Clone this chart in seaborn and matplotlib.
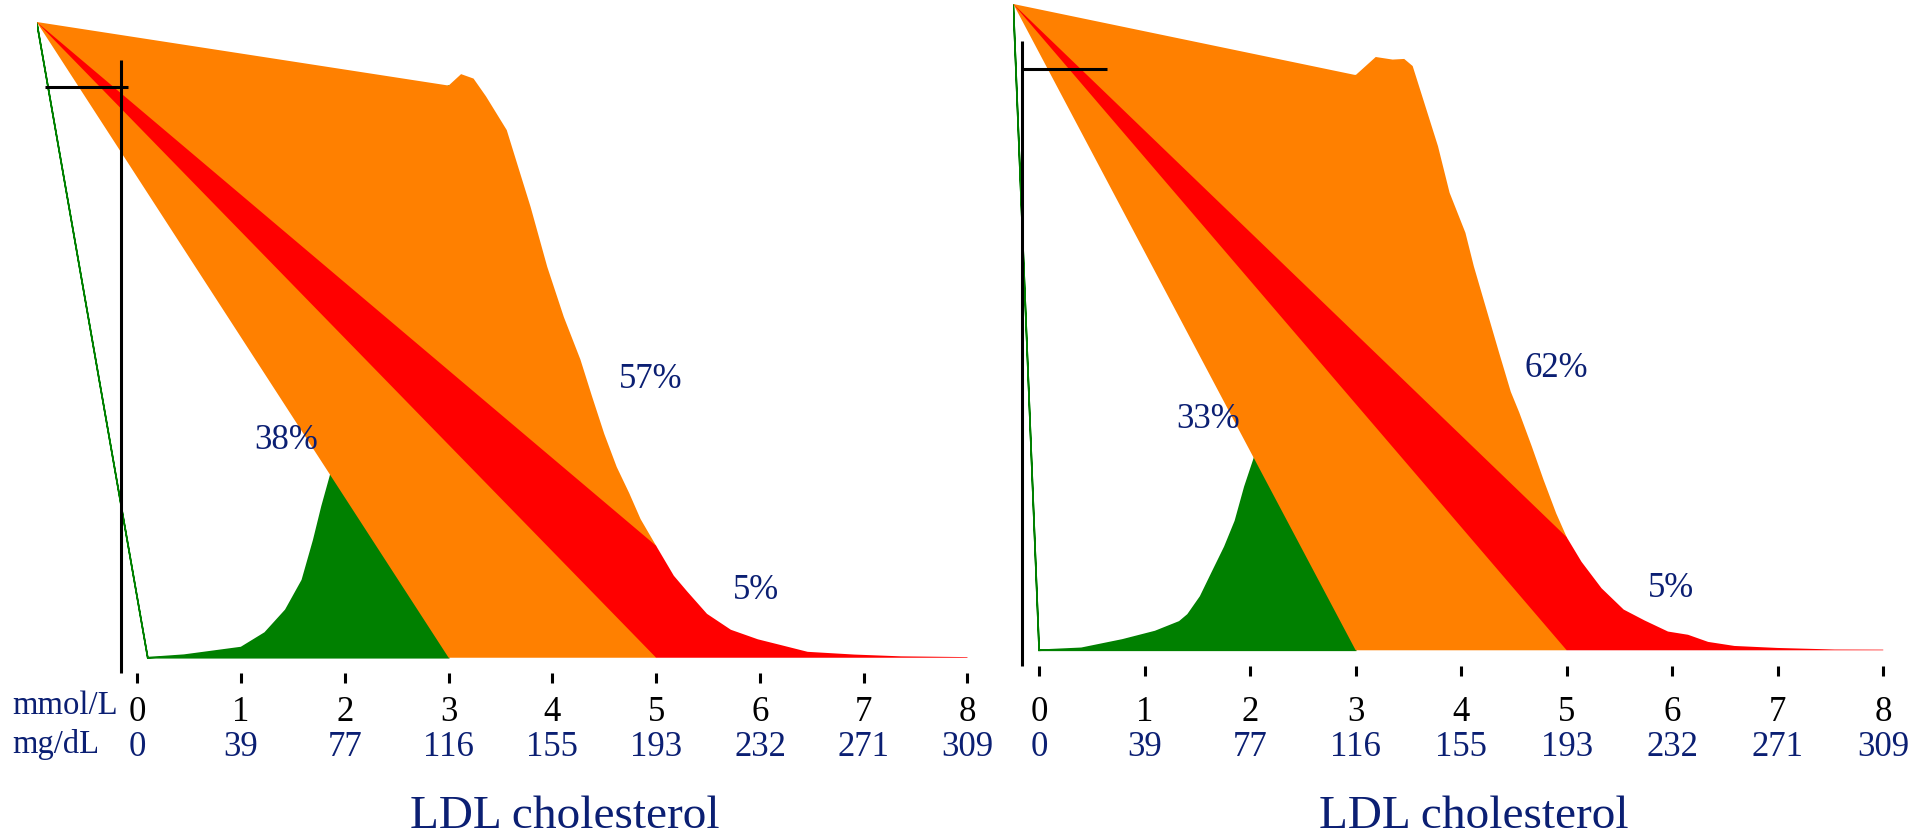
import numpy as np
import matplotlib
matplotlib.use("Agg")
import matplotlib.pyplot as plt
import seaborn as sns

# ---------------- data ----------------
mmol_ticks = [0, 1, 2, 3, 4, 5, 6, 7, 8]
mgdl_labels = ["0", "39", "77", "116", "155", "193", "232", "271", "309"]

# LDL distribution, left panel (x in mmol/L, relative density)
left_x = [0.10, 0.45, 1.00, 1.23, 1.43, 1.59, 1.70, 1.78, 1.86, 2.00, 2.25, 2.50,
          2.75, 3.00, 3.12, 3.24, 3.36, 3.56, 3.67, 3.79, 3.95, 4.11, 4.27, 4.38,
          4.50, 4.62, 4.74, 4.85, 5.00, 5.17, 5.30, 5.49, 5.72, 5.98, 6.20, 6.46,
          6.91, 7.36, 8.00]
left_y = [0.000, 0.004, 0.016, 0.039, 0.075, 0.122, 0.185, 0.238, 0.285, 0.370,
          0.520, 0.670, 0.800, 0.900, 0.918, 0.911, 0.883, 0.830, 0.772, 0.709,
          0.615, 0.536, 0.469, 0.412, 0.352, 0.300, 0.259, 0.218, 0.176, 0.129,
          0.104, 0.069, 0.044, 0.029, 0.020, 0.0093, 0.005, 0.0022, 0.001]

# LDL distribution, right panel
right_x = [0.00, 0.40, 0.79, 1.10, 1.33, 1.41, 1.53, 1.64, 1.76, 1.86, 1.95, 2.04,
           2.25, 2.50, 2.75, 3.00, 3.19, 3.35, 3.46, 3.54, 3.66, 3.78, 3.89, 4.04,
           4.12, 4.24, 4.36, 4.47, 4.55, 4.67, 4.78, 4.90, 5.00, 5.14, 5.33, 5.54,
           5.74, 5.96, 6.15, 6.34, 6.59, 7.00, 7.54, 8.00]
right_y = [0.000, 0.003, 0.016, 0.029, 0.044, 0.055, 0.083, 0.120, 0.160, 0.200,
           0.253, 0.297, 0.450, 0.620, 0.770, 0.890, 0.918, 0.914, 0.915, 0.904,
           0.842, 0.780, 0.708, 0.646, 0.594, 0.527, 0.460, 0.400, 0.368, 0.315,
           0.264, 0.212, 0.175, 0.137, 0.096, 0.063, 0.046, 0.029, 0.024, 0.013,
           0.0067, 0.0036, 0.0012, 0.001]

cut_low = 3.0
cut_high = 5.0
left_pct = ["38%", "57%", "5%"]
right_pct = ["33%", "62%", "5%"]

# ---------------- layout / style ----------------
left_pct_pos = [(1.43, 0.328), (4.95, 0.425), (5.96, 0.092)]
right_pct_pos = [(1.60, 0.344), (4.90, 0.423), (5.99, 0.082)]

GREEN = "#008000"
ORANGE = "#FF8000"
RED = "#FF0000"
NAVY = "#0b1f73"
FS = 25
FS_ROW = 23.5
FS_TITLE = 34

W, H = 1921, 836
sns.set_style("white")
plt.rcParams["font.family"] = ["Liberation Serif", "DejaVu Serif"]

fig = plt.figure(figsize=(W / 100, H / 100), dpi=100)


def px_axes(l, r, t, b):
    return fig.add_axes([l / W, 1 - b / H, (r - l) / W, (b - t) / H])


ax_l = px_axes(36.7, 998.6, 22.0, 673.0)
ax_r = px_axes(1013.3, 1914.9, 4.0, 665.8)


def panel(ax, xlo, xs, ys, pcts, pct_pos, vbar_top, hbar):
    ax.set_xlim(xlo, 8.3)
    ax.set_ylim(-0.024, 1.0)
    px, py = ax.get_xlim()[0], ax.get_ylim()[1]
    xs = np.asarray(xs, float)
    ys = np.asarray(ys, float)

    def seg(a, b):
        m = (xs >= a - 1e-9) & (xs <= b + 1e-9)
        return xs[m], ys[m]

    gx, gy = seg(xs[0], cut_low)
    ax.fill(np.r_[px, gx, cut_low, gx[0]], np.r_[py, gy, 0, 0],
            facecolor=GREEN, edgecolor=GREEN, lw=1.2, zorder=1)
    ox, oy = seg(cut_low, cut_high)
    ax.fill(np.r_[px, ox, cut_high, cut_low], np.r_[py, oy, 0, 0],
            facecolor=ORANGE, edgecolor="none", lw=0, zorder=2)
    rx, ry = seg(cut_high, xs[-1])
    ax.fill(np.r_[px, rx, rx[-1], cut_high], np.r_[py, ry, 0, 0],
            facecolor=RED, edgecolor="none", lw=0, zorder=3)

    # axis-like black bars
    ax.plot([-0.16, -0.16], [-0.024, vbar_top], color="black", lw=2.2,
            solid_capstyle="butt", clip_on=False, zorder=5)
    ax.plot([hbar[0], hbar[1]], [hbar[2], hbar[2]], color="black", lw=2.2,
            solid_capstyle="butt", clip_on=False, zorder=5)

    for s, (tx, ty) in zip(pcts, pct_pos):
        ax.text(tx, ty, s, ha="center", va="baseline", fontsize=FS, color=NAVY)

    sns.despine(ax=ax, left=True, bottom=True, top=True, right=True)
    ax.set_yticks([])
    ax.set_xticks(mmol_ticks)
    ax.tick_params(axis="x", bottom=True, direction="out", length=7.2, width=2.2,
                   color="black", labelbottom=False)
    ax.set_facecolor("none")

    for t, mg in zip(mmol_ticks, mgdl_labels):
        ax.annotate(str(t), xy=(t, 1 - 721 / H), xycoords=("data", "figure fraction"),
                    ha="center", va="baseline", fontsize=FS, color="black",
                    annotation_clip=False)
        ax.annotate(mg, xy=(t, 1 - 756.5 / H), xycoords=("data", "figure fraction"),
                    ha="center", va="baseline", fontsize=FS, color=NAVY,
                    annotation_clip=False)
    ax.annotate("LDL cholesterol", xy=(4.12, 1 - 828 / H),
                xycoords=("data", "figure fraction"), ha="center", va="baseline",
                fontsize=FS_TITLE, color=NAVY, annotation_clip=False)


panel(ax_l, -0.97, left_x, left_y, left_pct, left_pct_pos, 0.941, (-0.893, -0.087, 0.898))
panel(ax_r, -0.245, right_x, right_y, right_pct, right_pct_pos, 0.943, (-0.16, 0.645, 0.899))

fig.text(12.7 / W, 1 - 714 / H, "mmol/L", ha="left", va="baseline", fontsize=FS_ROW, color=NAVY)
fig.text(12.7 / W, 1 - 753 / H, "mg/dL", ha="left", va="baseline", fontsize=FS_ROW, color=NAVY)

fig.savefig("out.png", dpi=100, facecolor="white")
